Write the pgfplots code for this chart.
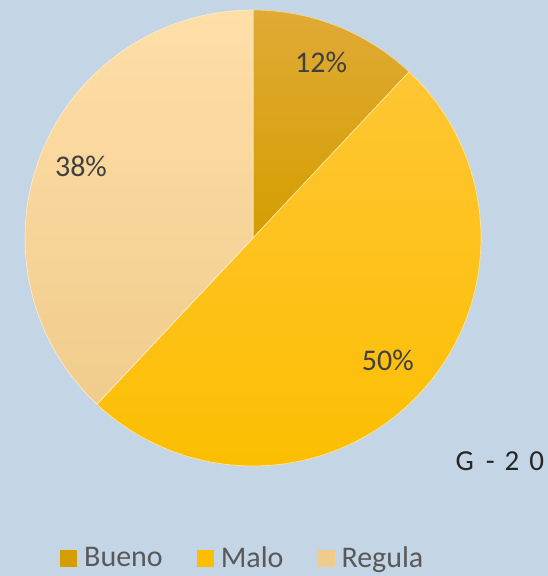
\documentclass[border=0pt]{standalone}
\usepackage{fontspec}
\setmainfont{Carlito}
\usepackage{pgfplots}
\usepackage{pgfplotstable}
\pgfplotsset{compat=1.18}
\usetikzlibrary{calc}

\definecolor{bgblue}{RGB}{196,213,229}
\definecolor{buenoT}{RGB}{224,170,54}
\definecolor{buenoB}{RGB}{212,158,0}
\definecolor{maloT}{RGB}{255,198,52}
\definecolor{maloB}{RGB}{252,190,0}
\definecolor{regT}{RGB}{255,222,168}
\definecolor{regB}{RGB}{240,204,140}
\definecolor{lbl}{RGB}{64,64,64}
\definecolor{leg}{RGB}{89,89,89}

\pgfplotstableread{
label value
Bueno 12
Malo 50
Regula 38
}\piedata

\newcommand{\cx}{253}
\newcommand{\cy}{338}
\newcommand{\rad}{228}

\begin{document}
\begin{tikzpicture}
\begin{axis}[name=ax, x=1pt, y=1pt, xmin=0, xmax=548, ymin=0, ymax=576,
  hide axis, clip=false,
  legend columns=3,
  legend style={at={(axis cs:57,18)}, anchor=west, draw=none, fill=none,
    font=\fontsize{30}{33}\selectfont, text=leg,
    nodes={inner sep=3pt},
    /tikz/every odd column/.append style={column sep=4pt},
    /tikz/every even column/.append style={column sep=31pt}},
  legend image code/.code={\fill[#1, draw=none] (0pt,-9pt) rectangle (17pt,8pt);}]
\pgfplotsextra{
  \fill[bgblue] (axis cs:0,0) rectangle (axis cs:548,576);
  \xdef\start{90}
  \foreach \i/\ct/\cb in {0/buenoT/buenoB,1/maloT/maloB,2/regT/regB}{
    \pgfplotstablegetelem{\i}{value}\of\piedata
    \let\val\pgfplotsretval
    \pgfmathsetmacro\stop{\start-3.6*\val}
    \pgfmathsetmacro\mid{(\start+\stop)/2}
    \shade[top color=\ct, bottom color=\cb, draw=white!60!\cb, line width=0.7pt]
      (axis cs:\cx,\cy) -- ++(\start:\rad pt)
      arc[start angle=\start, end angle=\stop, radius=\rad pt] -- cycle;
    \node[text=lbl, font=\fontsize{30}{34}\selectfont]
      at ($(axis cs:\cx,\cy)+(\mid:185pt)+(0,4pt)$) {\val\%};
    \xdef\start{\stop}
  }
  \node[anchor=west, text=black!85, font=\fontsize{29}{32}\selectfont]
    at (axis cs:452,115) {G\hspace{12pt}-\hspace{10pt}2\hspace{10pt}0};
}
\addlegendimage{fill=buenoB}
\addlegendentry{Bueno}
\addlegendimage{fill=maloB}
\addlegendentry{Malo}
\addlegendimage{fill=regB}
\addlegendentry{Regula}
\end{axis}
\pgfresetboundingbox
\path[use as bounding box] (0,0) rectangle (548pt,576pt);
\end{tikzpicture}
\end{document}
